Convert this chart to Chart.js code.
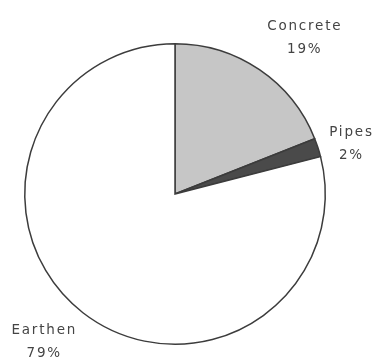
<!DOCTYPE html>
<html>
<head>
<meta charset="utf-8">
<script src="https://cdn.jsdelivr.net/npm/chart.js@4.4.0/dist/chart.umd.min.js"></script>
<style>
html,body{margin:0;padding:0;background:#fff;}
#wrap{width:372px;height:358px;}
</style>
</head>
<body>
<div id="wrap"><canvas id="c" width="372" height="358"></canvas></div>
<script>
const categories = ["Concrete", "Pipes", "Earthen"];
const values = [19, 2, 79];
const valueLabels = ["19%", "2%", "79%"];

const colors = ["#c6c6c6", "#4a4a4a", "#ffffff"];

const labelPlugin = {
  id: 'outerLabels',
  afterDatasetsDraw(chart) {
    const ctx = chart.ctx;
    const meta = chart.getDatasetMeta(0);
    const tweaks = [
      {r: 1.30, dx: 19, dy: 6},
      {r: 1.20, dx: 4, dy: 5.5},
      {r: 1.30, dx: -12, dy: -6}
    ];
    ctx.save();
    ctx.fillStyle = '#444444';
    ctx.font = '13.5px "DejaVu Sans", sans-serif';
    if ('letterSpacing' in ctx) ctx.letterSpacing = '1.8px';
    ctx.textAlign = 'center';
    ctx.textBaseline = 'middle';
    meta.data.forEach((arc, i) => {
      const p = arc.getProps(['x','y','startAngle','endAngle','outerRadius'], true);
      const mid = (p.startAngle + p.endAngle) / 2;
      const t = tweaks[i];
      const x = p.x + Math.cos(mid) * p.outerRadius * t.r + t.dx;
      const y = p.y + Math.sin(mid) * p.outerRadius * t.r + t.dy;
      ctx.fillText(categories[i], x + 1, y - 11.5);
      ctx.fillText(valueLabels[i], x + 1, y + 11.5);
    });
    ctx.restore();
  }
};

new Chart(document.getElementById('c'), {
  type: 'pie',
  data: {
    labels: categories,
    datasets: [{
      data: values,
      backgroundColor: colors,
      borderColor: '#3c3c3c',
      borderWidth: 1.5,
      borderJoinStyle: 'miter'
    }]
  },
  options: {
    responsive: false,
    animation: false,
    layout: { padding: { left: 24, right: 46, top: 43, bottom: 13 } },
    plugins: {
      legend: { display: false },
      tooltip: { enabled: false }
    }
  },
  plugins: [labelPlugin]
});
</script>
</body>
</html>
